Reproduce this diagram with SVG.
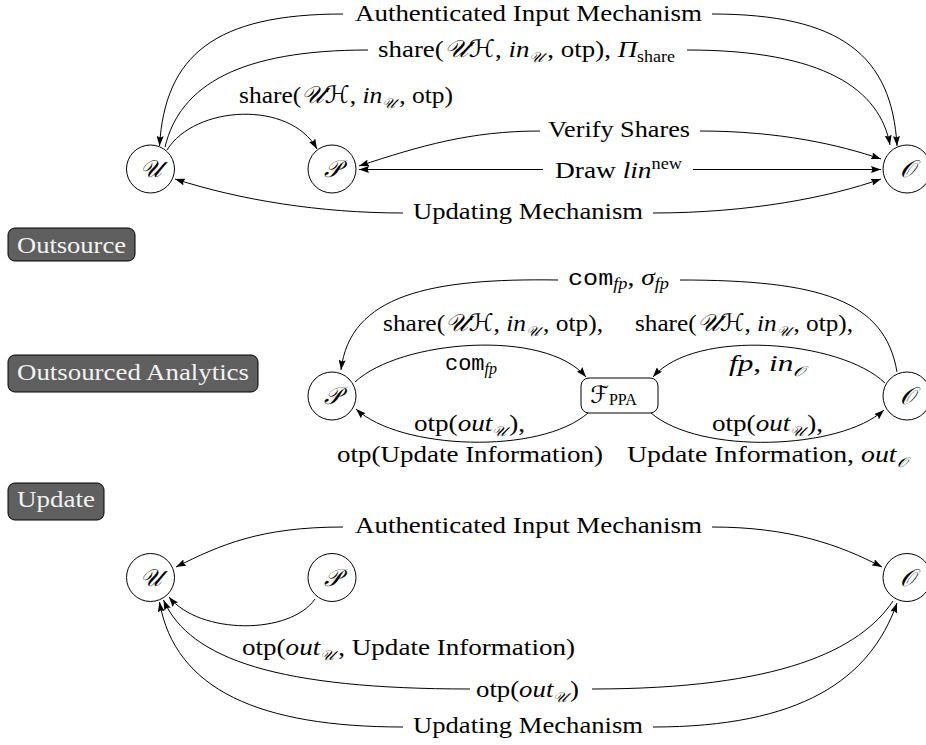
<svg xmlns="http://www.w3.org/2000/svg" width="926" height="745" viewBox="0 0 926 745">
<defs>
<marker id="ah" viewBox="0 0 10 7" refX="10" refY="3.5" markerWidth="10" markerHeight="7" markerUnits="userSpaceOnUse" orient="auto-start-reverse"><path d="M0,0 L10,3.5 L0,7 L1.5,3.5 Z" fill="#000"/></marker>
<style>
.e{fill:none;stroke:#000;stroke-width:1}
.b{marker-start:url(#ah);marker-end:url(#ah)}
.f{marker-end:url(#ah)}
.nd{fill:#fff;stroke:#000;stroke-width:1}
.t{font-family:"Liberation Serif","DejaVu Serif",serif;font-size:24px;fill:#000}
.i{font-style:italic}
.c{font-family:"DejaVu Serif","DejaVu Sans",serif;font-style:italic}
.s{font-size:16px}
.sc{font-size:14px}
.tt{font-family:"Liberation Mono","DejaVu Sans Mono",monospace}
.btn{fill:#5f5f5f;stroke:#000;stroke-width:1}
.bt{font-family:"Liberation Serif","DejaVu Serif",serif;font-size:24px;fill:#f2f2f2}
</style>
</defs>
<rect width="926" height="745" fill="#fff"/>

<g id="connectors">
<!-- top -->
<path class="e b" d="M159.5,146 C165,55 215,14 343,14 M712,14 C840,14 892,55 897,146"/>
<path class="e f" d="M165,147 C180,85 240,50 368,50 M687,50 C825,50 880,90 890,145"/>
<path class="e f" d="M167,150 C195,105 290,100 317,149"/>
<path class="e b" d="M359,166 C420,146 470,131 540,131 M700,131 C780,131 840,145 881,159"/>
<path class="e b" d="M359,169.5 L543,169.5 M693,169.5 L881,169.5"/>
<path class="e b" d="M175,179 C240,200 320,213 403,213 M653,213 C750,213 830,197 881,179"/>
<!-- middle -->
<path class="e f" d="M897,372 C885,300 820,280 680,280 M558,280 C430,278 350,295 341,370"/>
<path class="e f" d="M355,382 C400,340 545,328 586,377"/>
<path class="e f" d="M885,383 C840,340 695,328 653,377"/>
<path class="e f" d="M588,413 C540,455 400,450 356,409"/>
<path class="e f" d="M651,413 C700,455 840,450 884,410"/>
<!-- bottom -->
<path class="e b" d="M176,567 C220,545 260,527 343,527 M712,527 C790,527 840,545 882,567"/>
<path class="e f" d="M315,599 C290,635 200,635 169,597"/>
<path class="e f" d="M893,601 C860,650 780,689 592,689 M470,689 C280,689 190,660 163.5,600"/>
<path class="e b" d="M159.5,602 C175,690 260,727 403,727 M653,727 C800,727 870,680 897,603"/>
</g>

<g id="labels" class="t">
<text x="355" y="21" textLength="347" lengthAdjust="spacingAndGlyphs">Authenticated Input Mechanism</text>
<text x="378" y="57" textLength="297" lengthAdjust="spacingAndGlyphs">share(<tspan class="c">𝒰ℋ</tspan>, <tspan class="i">in</tspan><tspan class="sc c" dy="5">𝒰</tspan><tspan dx="3" dy="-5">, otp), </tspan><tspan class="i">Π</tspan><tspan class="s" dy="5">share</tspan></text>
<text x="239" y="103" textLength="214" lengthAdjust="spacingAndGlyphs">share(<tspan class="c">𝒰ℋ</tspan>, <tspan class="i">in</tspan><tspan class="sc c" dy="5">𝒰</tspan><tspan dx="3" dy="-5">, otp)</tspan></text>
<text x="548" y="137" textLength="142" lengthAdjust="spacingAndGlyphs">Verify Shares</text>
<text x="555" y="178" textLength="127" lengthAdjust="spacingAndGlyphs">Draw <tspan class="i">lin</tspan><tspan class="s" dy="-9">new</tspan></text>
<text x="413" y="219" textLength="230" lengthAdjust="spacingAndGlyphs">Updating Mechanism</text>

<text x="568" y="285" textLength="101" lengthAdjust="spacingAndGlyphs"><tspan class="tt" font-size="22">com</tspan><tspan class="s i" dy="4">fp</tspan><tspan dy="-4">, </tspan><tspan class="i">σ</tspan><tspan class="s i" dy="4">fp</tspan></text>
<text x="383" y="331" textLength="220" lengthAdjust="spacingAndGlyphs">share(<tspan class="c">𝒰ℋ</tspan>, <tspan class="i">in</tspan><tspan class="sc c" dy="5">𝒰</tspan><tspan dx="3" dy="-5">, otp),</tspan></text>
<text x="445" y="370" textLength="52" lengthAdjust="spacingAndGlyphs"><tspan class="tt" font-size="22">com</tspan><tspan class="s i" dy="4">fp</tspan></text>
<text x="635" y="331" textLength="218" lengthAdjust="spacingAndGlyphs">share(<tspan class="c">𝒰ℋ</tspan>, <tspan class="i">in</tspan><tspan class="sc c" dy="5">𝒰</tspan><tspan dx="3" dy="-5">, otp),</tspan></text>
<text x="729" y="371" textLength="76" lengthAdjust="spacingAndGlyphs"><tspan class="i">fp</tspan>, <tspan class="i">in</tspan><tspan class="sc c" dy="5">𝒪</tspan></text>
<text x="414" y="431" textLength="111" lengthAdjust="spacingAndGlyphs">otp(<tspan class="i">out</tspan><tspan class="sc c" dy="5">𝒰</tspan><tspan dx="2" dy="-5">),</tspan></text>
<text x="337" y="462" textLength="266" lengthAdjust="spacingAndGlyphs">otp(Update Information)</text>
<text x="712" y="431" textLength="111" lengthAdjust="spacingAndGlyphs">otp(<tspan class="i">out</tspan><tspan class="sc c" dy="5">𝒰</tspan><tspan dx="2" dy="-5">),</tspan></text>
<text x="627" y="462" textLength="280" lengthAdjust="spacingAndGlyphs">Update Information, <tspan class="i">out</tspan><tspan class="sc c" dy="5">𝒪</tspan></text>

<text x="355" y="533" textLength="347" lengthAdjust="spacingAndGlyphs">Authenticated Input Mechanism</text>
<text x="242" y="655" textLength="333" lengthAdjust="spacingAndGlyphs">otp(<tspan class="i">out</tspan><tspan class="sc c" dy="5">𝒰</tspan><tspan dx="3" dy="-5">, Update Information)</tspan></text>
<text x="476" y="697" textLength="103" lengthAdjust="spacingAndGlyphs">otp(<tspan class="i">out</tspan><tspan class="sc c" dy="5">𝒰</tspan><tspan dx="2" dy="-5">)</tspan></text>
<text x="413" y="733" textLength="230" lengthAdjust="spacingAndGlyphs">Updating Mechanism</text>
</g>

<g id="btn-outsource"><rect class="btn" x="8" y="228" width="127" height="33" rx="7"/><text class="bt" x="17" y="253" textLength="109" lengthAdjust="spacingAndGlyphs">Outsource</text></g>
<g id="btn-analytics"><rect class="btn" x="8" y="355" width="250" height="37" rx="7"/><text class="bt" x="17" y="380" textLength="232" lengthAdjust="spacingAndGlyphs">Outsourced Analytics</text></g>
<g id="btn-update"><rect class="btn" x="8" y="483" width="96" height="37" rx="7"/><text class="bt" x="17" y="507" textLength="78" lengthAdjust="spacingAndGlyphs">Update</text></g>

<g id="U1"><circle class="nd" cx="150.5" cy="169" r="24"/><text class="t c" x="150.5" y="177" text-anchor="middle">𝒰</text></g>
<g id="P1"><circle class="nd" cx="332" cy="169" r="24"/><text class="t c" x="332" y="177" text-anchor="middle">𝒫</text></g>
<g id="O1"><circle class="nd" cx="907" cy="169" r="24"/><text class="t c" x="907" y="177" text-anchor="middle">𝒪</text></g>

<g id="P2"><circle class="nd" cx="332" cy="396" r="24"/><text class="t c" x="332" y="404" text-anchor="middle">𝒫</text></g>
<g id="F"><rect class="nd" x="581" y="378" width="77" height="35" rx="8"/><text class="t" x="590" y="403"><tspan class="c">ℱ</tspan><tspan class="s" dy="2">PPA</tspan></text></g>
<g id="O2"><circle class="nd" cx="907" cy="396" r="24"/><text class="t c" x="907" y="404" text-anchor="middle">𝒪</text></g>

<g id="U3"><circle class="nd" cx="150.5" cy="577.5" r="24"/><text class="t c" x="150.5" y="586" text-anchor="middle">𝒰</text></g>
<g id="P3"><circle class="nd" cx="332" cy="577.5" r="24"/><text class="t c" x="332" y="586" text-anchor="middle">𝒫</text></g>
<g id="O3"><circle class="nd" cx="907" cy="577.5" r="24"/><text class="t c" x="907" y="586" text-anchor="middle">𝒪</text></g>
</svg>
